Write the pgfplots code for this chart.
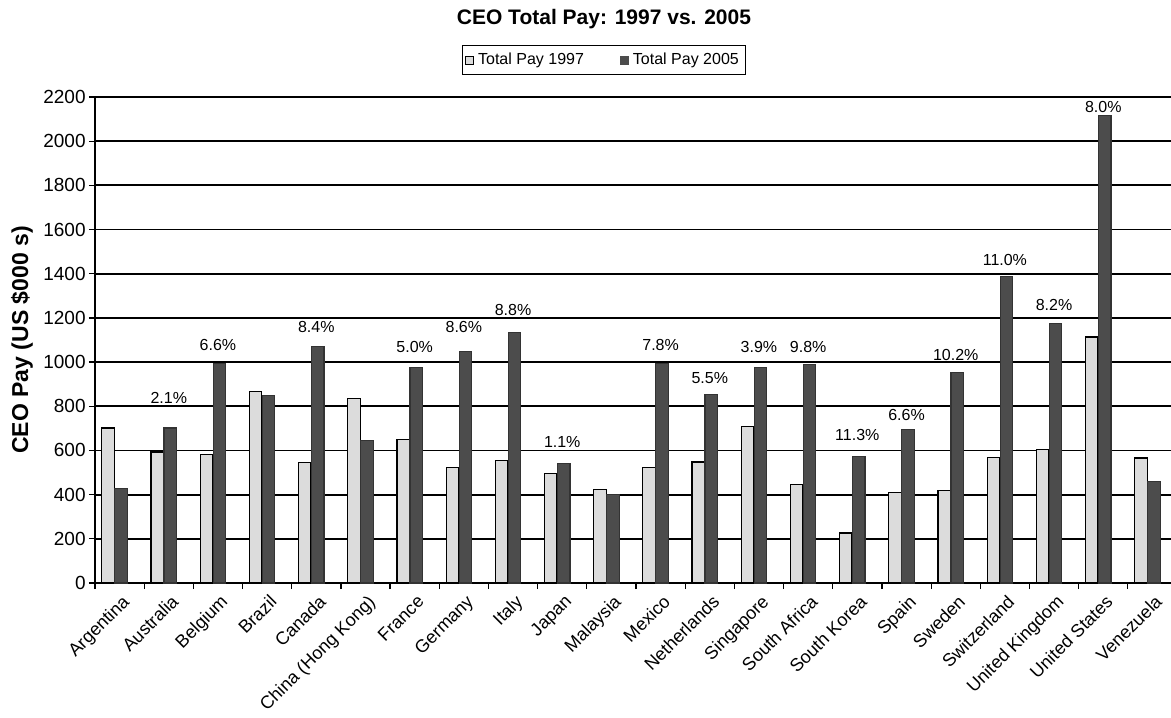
\documentclass[border=0pt]{standalone}
\usepackage{fontspec}
\setmainfont{Liberation Sans}
\usepackage{pgfplots}
\pgfplotsset{compat=1.18}
\definecolor{bar97}{HTML}{DCDCDC}
\definecolor{bar05}{HTML}{4C4C4C}
\begin{document}
\begin{tikzpicture}
\useasboundingbox (-47.5pt,-67pt) rectangle (538pt,291.5pt);
\begin{axis}[
    at={(0,0)}, anchor=south west,
    scale only axis,
    width=541pt, height=243pt,
    xmin=-0.5, xmax=21.5,
    ymin=0, ymax=2200,
    ytick={0,200,...,2200},
    xtick={0,...,21},
    xticklabels={Argentina, Australia, Belgium, Brazil, Canada, China (Hong Kong), France, Germany, Italy, Japan, Malaysia, Mexico, Netherlands, Singapore, South Africa, South Korea, Spain, Sweden, Switzerland, United Kingdom, United States, Venezuela},
    minor xtick={-0.5,0.5,...,21.5},
    major x tick style={draw=none},
    minor x tick style={black, line width=0.6pt},
    y tick style={black, line width=0.6pt},
    tick align=outside,
    major tick length=3pt, minor tick length=3pt,
    axis x line*=bottom, axis y line*=left,
    axis line style={black, line width=0.8pt},
    ymajorgrids,
    grid style={black, line width=0.9pt},
    /pgf/number format/assume math mode=true,
    /pgf/number format/1000 sep={},
    yticklabel style={font=\fontsize{9.5}{10}\selectfont, inner sep=1.5pt},
    xticklabel style={font=\fontsize{9}{10}\selectfont, rotate=45, anchor=north east, inner sep=1pt, yshift=-1pt},
    ylabel={\textbf{CEO Pay (US \$000 s)}},
    ylabel style={at={(axis description cs:-0.0675,0.5)}, anchor=center, font=\fontsize{11.5}{12}\selectfont},
    title={\textbf{CEO Total Pay: 1997 vs. 2005}},
    title style={at={(axis description cs:0.4704,1.136)}, anchor=center, font=\fontsize{10.5}{12}\selectfont},
    legend style={at={(axis description cs:0.4704,1.076)}, anchor=center, draw=black, line width=0.6pt,
        font=\fontsize{8}{9}\selectfont, inner sep=1.5pt, legend columns=2,
        /tikz/every even column/.append style={column sep=16pt}},
    legend cell align=left,
]
\addplot[ybar, bar width=6.25pt, bar shift=-5.75pt, fill=bar97, draw=black, line width=0.6pt,
    legend image code/.code={\draw[fill=bar97, draw=black, line width=0.5pt] (0pt,-2pt) rectangle (4pt,2pt);}]
coordinates {
    (0,702) (1,593) (2,580) (3,868) (4,545) (5,835) (6,650) (7,522) (8,555) (9,495) (10,424)
    (11,522) (12,548) (13,709) (14,447) (15,226) (16,408) (17,418) (18,569) (19,604) (20,1114) (21,566)
};
\addplot[ybar, bar width=6.25pt, bar shift=0.75pt, fill=bar05, draw=black!80, line width=0.6pt,
    legend image code/.code={\draw[fill=bar05, draw=bar05, line width=0.5pt] (0pt,-2pt) rectangle (4pt,2pt);}]
coordinates {
    (0,427) (1,702) (2,993) (3,847) (4,1072) (5,646) (6,974) (7,1049) (8,1134) (9,540) (10,400)
    (11,993) (12,853) (13,974) (14,990) (15,574) (16,694) (17,954) (18,1389) (19,1173) (20,2116) (21,460)
};
\legend{Total Pay 1997, Total Pay 2005}
% growth labels
\addplot[draw=none, forget plot, nodes near coords, point meta=explicit symbolic,
    every node near coord/.append style={anchor=center, font=\fontsize{8}{9}\selectfont, inner sep=0pt}]
coordinates {
    (1,837) [2.1\%] (2,1077) [6.6\%] (4,1159) [8.4\%] (6,1068) [5.0\%] (7,1159) [8.6\%]
    (8,1236) [8.8\%] (9,638) [1.1\%] (11,1077) [7.8\%] (12,928) [5.5\%] (13,1068) [3.9\%]
    (14,1068) [9.8\%] (15,670) [11.3\%] (16,760) [6.6\%] (17,1032) [10.2\%] (18,1462) [11.0\%]
    (19,1258) [8.2\%] (20,2155) [8.0\%]
};
\end{axis}
\end{tikzpicture}
\end{document}
